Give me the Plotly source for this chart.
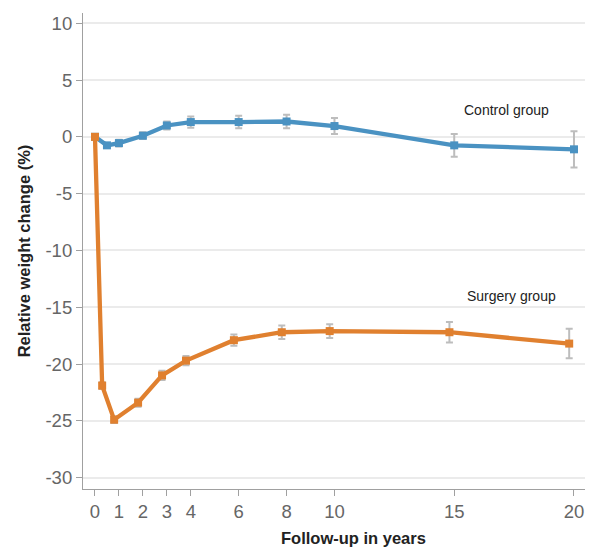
import plotly.graph_objects as go

# Data
control_x = [0, 0.5, 1, 2, 3, 4, 6, 8, 10, 15, 20]
control_y = [0, -0.75, -0.55, 0.1, 1.0, 1.3, 1.3, 1.35, 0.95, -0.75, -1.1]
control_err = [0, 0.2, 0.3, 0.3, 0.35, 0.5, 0.55, 0.6, 0.7, 1.0, 1.6]

surgery_x = [0, 0.3, 0.8, 1.8, 2.8, 3.8, 5.8, 7.8, 9.8, 14.8, 19.8]
surgery_y = [0, -21.9, -24.9, -23.4, -21.0, -19.7, -17.9, -17.2, -17.1, -17.2, -18.2]
surgery_err = [0, 0.3, 0.3, 0.35, 0.4, 0.4, 0.5, 0.6, 0.6, 0.9, 1.3]

x_ticks = [0, 1, 2, 3, 4, 6, 8, 10, 15, 20]
y_ticks = [10, 5, 0, -5, -10, -15, -20, -25, -30]

blue = "#4a92c2"
orange = "#e0802f"
errc = "#bdbdbd"
font = "Arial, Liberation Sans, Helvetica, sans-serif"

fig = go.Figure()
for xs, ys, es, col in [(control_x, control_y, control_err, blue),
                        (surgery_x, surgery_y, surgery_err, orange)]:
    fig.add_trace(go.Scatter(
        x=xs, y=ys, mode="lines+markers",
        line=dict(color=col, width=4.3),
        marker=dict(symbol="square", size=8, color=col),
        error_y=dict(type="data", array=es, color=errc, thickness=2, width=3.5),
        showlegend=False,
    ))

fig.add_annotation(x=17.2, y=2.4, text="Control group", showarrow=False,
                   font=dict(family=font, size=14, color="#222"))
fig.add_annotation(x=17.4, y=-14.0, text="Surgery group", showarrow=False,
                   font=dict(family=font, size=14, color="#222"))
# x-axis title (placed slightly right of centre, as in the reference)
fig.add_annotation(xref="paper", yref="paper", x=0.538, y=-0.103,
                   text="<b>Follow-up in years</b>", showarrow=False,
                   xanchor="center", yanchor="middle",
                   font=dict(family=font, size=16.5, color="#222"))

axis_common = dict(
    showline=True, linecolor="#a0a0a0", linewidth=1.2,
    ticks="outside", ticklen=6, tickcolor="#a0a0a0", tickwidth=1.2,
    tickfont=dict(family=font, size=18.5, color="#666666"),
    zeroline=False, automargin=False,
)

fig.update_xaxes(
    range=[-0.5, 20.46], tickvals=x_ticks, ticktext=[str(v) for v in x_ticks],
    showgrid=False,
    **axis_common,
)
fig.update_yaxes(
    range=[-31, 10.9], tickvals=y_ticks, ticktext=[str(v) for v in y_ticks],
    showgrid=True, gridcolor="#ebebeb", gridwidth=1.5,
    title=dict(text="<b>Relative weight change (%)</b>", standoff=10,
               font=dict(family=font, size=16.5, color="#222")),
    **axis_common,
)

# page body has an 8px margin, so the figure is offset by (8, 8)
fig.update_layout(
    width=592, height=546,
    margin=dict(l=75, r=15, t=5, b=65, autoexpand=False),
    plot_bgcolor="white", paper_bgcolor="white",
    font=dict(family=font),
)

fig.write_html("out.html")
